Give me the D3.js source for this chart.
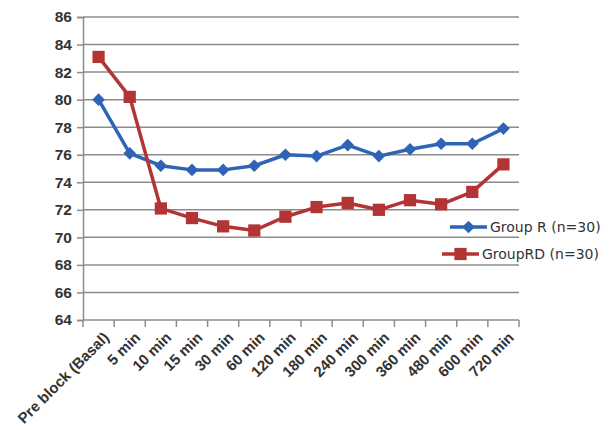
<!DOCTYPE html>
<html>
<head>
<meta charset="utf-8">
<script src="https://d3js.org/d3.v7.min.js"></script>
<style>
  body { margin: 0; background: #fff; }
  svg text { font-family: "Liberation Sans", Arial, sans-serif; }
  svg text.leg { font-family: "DejaVu Sans", sans-serif; }
</style>
</head>
<body>
<div id="chart"></div>
<script>
var categories = ["Pre block (Basal)", "5 min", "10 min", "15 min", "30 min", "60 min", "120 min",
                  "180 min", "240 min", "300 min", "360 min", "480 min", "600 min", "720 min"];
var groupR  = [80.0, 76.1, 75.2, 74.9, 74.9, 75.2, 76.0, 75.9, 76.7, 75.9, 76.4, 76.8, 76.8, 77.9];
var groupRD = [83.1, 80.2, 72.1, 71.4, 70.8, 70.5, 71.5, 72.2, 72.5, 72.0, 72.7, 72.4, 73.3, 75.3];
var yTicks  = [64, 66, 68, 70, 72, 74, 76, 78, 80, 82, 84, 86];
var seriesNames = ["Group R (n=30)", "GroupRD (n=30)"];

var W = 609, H = 430;
var margin = {top: 17, left: 83, bottom: 110, right: 90},
    width = W - margin.left - margin.right,
    height = H - margin.top - margin.bottom;

var svg = d3.select("#chart").append("svg")
    .attr("width", W)
    .attr("height", H)
    .append("g")
    .attr("transform", "translate(" + margin.left + "," + margin.top + ")");

var x = d3.scaleBand().domain(categories).range([0, width]);
var y = d3.scaleLinear().domain([64, 86]).range([height, 0]);

// gridlines
svg.append("g")
    .selectAll("line")
    .data(yTicks.slice(1))
    .enter().append("line")
    .attr("x1", 0).attr("x2", width)
    .attr("y1", function(d){ return y(d); })
    .attr("y2", function(d){ return y(d); })
    .attr("stroke", "#8c8c8c")
    .attr("stroke-width", 1.5);

// y axis
var yAxis = svg.append("g")
    .call(d3.axisLeft(y).tickValues(yTicks).tickSize(6).tickPadding(5));
yAxis.select(".domain").attr("stroke", "#8c8c8c").attr("stroke-width", 1.5);
yAxis.selectAll(".tick line").attr("stroke", "#8c8c8c").attr("stroke-width", 1.5);
yAxis.selectAll(".tick text")
    .attr("font-size", 15.5).attr("font-weight", "bold").attr("fill", "#333");

// x axis with ticks on band boundaries
var xAxis = svg.append("g").attr("transform", "translate(0," + height + ")");
xAxis.append("line")
    .attr("x1", 0).attr("x2", width)
    .attr("stroke", "#8c8c8c").attr("stroke-width", 1.5);
var bounds = categories.map(function(d){ return x(d); }).concat([width]);
xAxis.selectAll(".xt")
    .data(bounds)
    .enter().append("line")
    .attr("class", "xt")
    .attr("x1", function(d){ return d; }).attr("x2", function(d){ return d; })
    .attr("y1", 0).attr("y2", 7)
    .attr("stroke", "#8c8c8c").attr("stroke-width", 1.5);
xAxis.selectAll(".xl")
    .data(categories)
    .enter().append("text")
    .attr("class", "xl")
    .attr("transform", function(d){
        return "translate(" + (x(d) + x.bandwidth() / 2 + 4) + ",11) rotate(-45)";
    })
    .attr("text-anchor", "end")
    .attr("dy", "0.7em")
    .attr("font-size", 15)
    .attr("font-weight", "bold")
    .attr("fill", "#333")
    .text(function(d){ return d; });

var colors = ["#2f63b6", "#b33434"];
var line = d3.line()
    .x(function(d, i){ return x(categories[i]) + x.bandwidth() / 2; })
    .y(function(d){ return y(d); });

function marker(k){
    return d3.symbol().type(d3.symbolSquare).size(k === 0 ? 80 : 150)();
}

[groupR, groupRD].forEach(function(vals, k){
    svg.append("path")
        .datum(vals)
        .attr("fill", "none")
        .attr("stroke", colors[k])
        .attr("stroke-width", 3.5)
        .attr("stroke-linejoin", "round")
        .attr("d", line);
    svg.selectAll(".m" + k)
        .data(vals)
        .enter().append("path")
        .attr("class", "m" + k)
        .attr("transform", function(d, i){
            return "translate(" + (x(categories[i]) + x.bandwidth() / 2) + "," + y(d) + ")" +
                   (k === 0 ? " rotate(45)" : "");
        })
        .attr("d", marker(k))
        .attr("fill", colors[k]);
});

// legend
var legend = svg.append("g");
var legPos = [{x0: 367, y: 210}, {x0: 359, y: 237}];
seriesNames.forEach(function(name, k){
    var g = legend.append("g").attr("transform", "translate(" + legPos[k].x0 + "," + legPos[k].y + ")");
    g.append("line").attr("x1", 0).attr("x2", 37)
        .attr("stroke", colors[k]).attr("stroke-width", 3.5);
    g.append("path")
        .attr("transform", "translate(18.5,0)" + (k === 0 ? " rotate(45)" : ""))
        .attr("d", marker(k))
        .attr("fill", colors[k]);
    g.append("text")
        .attr("class", "leg")
        .attr("x", 40).attr("dy", "0.35em")
        .attr("font-size", 14)
        .attr("fill", "#333")
        .text(name);
});
</script>
</body>
</html>
